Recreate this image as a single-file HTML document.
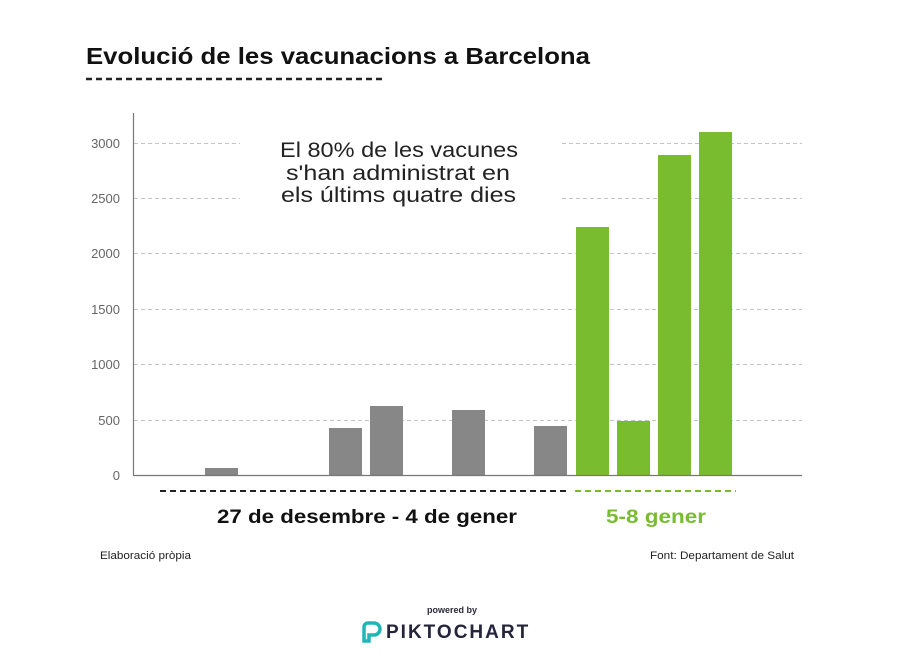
<!DOCTYPE html>
<html><head><meta charset="utf-8"><style>
body{margin:0;background:#fff;width:898px;height:665px;overflow:hidden}
svg text{font-family:"Liberation Sans",sans-serif}
</style></head><body>
<svg width="898" height="665" viewBox="0 0 898 665" xmlns="http://www.w3.org/2000/svg">
<text x="86" y="64" font-size="23" font-weight="bold" fill="#111" textLength="504" lengthAdjust="spacingAndGlyphs">Evolució de les vacunacions a Barcelona</text>
<line x1="86" y1="79" x2="382" y2="79" stroke="#222" stroke-width="2.5" stroke-dasharray="6,4"/>
<g stroke="#c4c4c4" stroke-width="1" stroke-dasharray="4,3">
<line x1="134" y1="143.5" x2="240" y2="143.5"/><line x1="562" y1="143.5" x2="802" y2="143.5"/>
<line x1="134" y1="198.5" x2="240" y2="198.5"/><line x1="562" y1="198.5" x2="802" y2="198.5"/>
<line x1="134" y1="253.5" x2="802" y2="253.5"/>
<line x1="134" y1="309.5" x2="802" y2="309.5"/>
<line x1="134" y1="364.5" x2="802" y2="364.5"/>
<line x1="134" y1="420.5" x2="802" y2="420.5"/>
</g>
<g font-size="13" fill="#666" text-anchor="end">
<text x="120" y="148">3000</text><text x="120" y="203">2500</text><text x="120" y="258">2000</text>
<text x="120" y="314">1500</text><text x="120" y="369">1000</text><text x="120" y="425">500</text><text x="120" y="480">0</text>
</g>
<g fill="#878787">
<rect x="205" y="468" width="33" height="7"/>
<rect x="329" y="428" width="33" height="47"/>
<rect x="370" y="406" width="33" height="69"/>
<rect x="452" y="410" width="33" height="65"/>
<rect x="534" y="426" width="33" height="49"/>
</g>
<g fill="#79bc30">
<rect x="576" y="227" width="33" height="248"/>
<rect x="617" y="421" width="33" height="54"/>
<rect x="658" y="155" width="33" height="320"/>
<rect x="699" y="132" width="33" height="343"/>
</g>
<line x1="133.5" y1="113" x2="133.5" y2="475" stroke="#777" stroke-width="1.2"/>
<line x1="133" y1="475.5" x2="802" y2="475.5" stroke="#777" stroke-width="1.2"/>
<g font-size="21" fill="#222">
<text x="280" y="157" textLength="238" lengthAdjust="spacingAndGlyphs">El 80% de les vacunes</text>
<text x="286" y="180" textLength="224" lengthAdjust="spacingAndGlyphs">s'han administrat en</text>
<text x="281" y="202" textLength="235" lengthAdjust="spacingAndGlyphs">els últims quatre dies</text>
</g>
<line x1="160" y1="491" x2="570" y2="491" stroke="#222" stroke-width="2" stroke-dasharray="6,4"/>
<line x1="575" y1="491" x2="736" y2="491" stroke="#79bc30" stroke-width="2" stroke-dasharray="6,4"/>
<text x="217" y="523" font-size="19" font-weight="bold" fill="#111" textLength="300" lengthAdjust="spacingAndGlyphs">27 de desembre - 4 de gener</text>
<text x="606" y="523" font-size="19" font-weight="bold" fill="#79bc30" textLength="100" lengthAdjust="spacingAndGlyphs">5-8 gener</text>
<text x="100" y="559" font-size="11" fill="#222" textLength="91" lengthAdjust="spacingAndGlyphs">Elaboració pròpia</text>
<text x="650" y="559" font-size="11" fill="#222" textLength="144" lengthAdjust="spacingAndGlyphs">Font: Departament de Salut</text>
<text x="452" y="613" font-size="9" font-weight="bold" fill="#2a2a3a" text-anchor="middle">powered by</text>
<path d="M364 641 v-14 a4 4 0 0 1 4-4 h6 a6 6 0 0 1 0 12 h-5 v6 z" fill="none" stroke="#20b6b6" stroke-width="3.5"/>
<text x="386" y="638" font-size="19" font-weight="bold" fill="#24243a" letter-spacing="2">PIKTOCHART</text>
</svg>
</body></html>
